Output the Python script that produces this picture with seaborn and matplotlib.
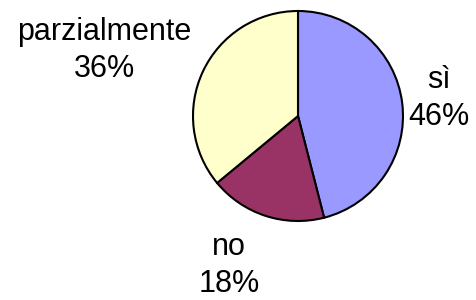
import matplotlib
matplotlib.use("Agg")
import matplotlib.pyplot as plt
import seaborn as sns

sns.set_theme(style="white")
plt.rcParams["font.family"] = ["Liberation Sans", "DejaVu Sans"]

labels = ["sì", "no", "parzialmente"]
values = [46, 18, 36]
colors = ["#9999FF", "#993366", "#FFFFCC"]

# label anchors (pixel offsets from pie centre, last-line baseline)
label_pos = [(141, -9), (-69, -176), (-194, 39)]

fig = plt.figure(figsize=(4.76, 3.0), dpi=100)
ax = fig.add_axes([0, 0, 1, 1])
ax.pie(values, colors=colors, startangle=90, counterclock=False, radius=105,
       wedgeprops=dict(edgecolor="black", linewidth=1.5))
ax.set_xlim(-298, 178)
ax.set_ylim(-184, 116)
ax.set_aspect("equal")
ax.axis("off")

total = sum(values)
for lab, val, (x, y) in zip(labels, values, label_pos):
    ax.text(x, y, f"{lab}\n{round(100 * val / total)}%", ha="center", va="baseline",
            fontsize=22, linespacing=1.3, color="black")

fig.savefig("out.png", dpi=100, facecolor="white")
